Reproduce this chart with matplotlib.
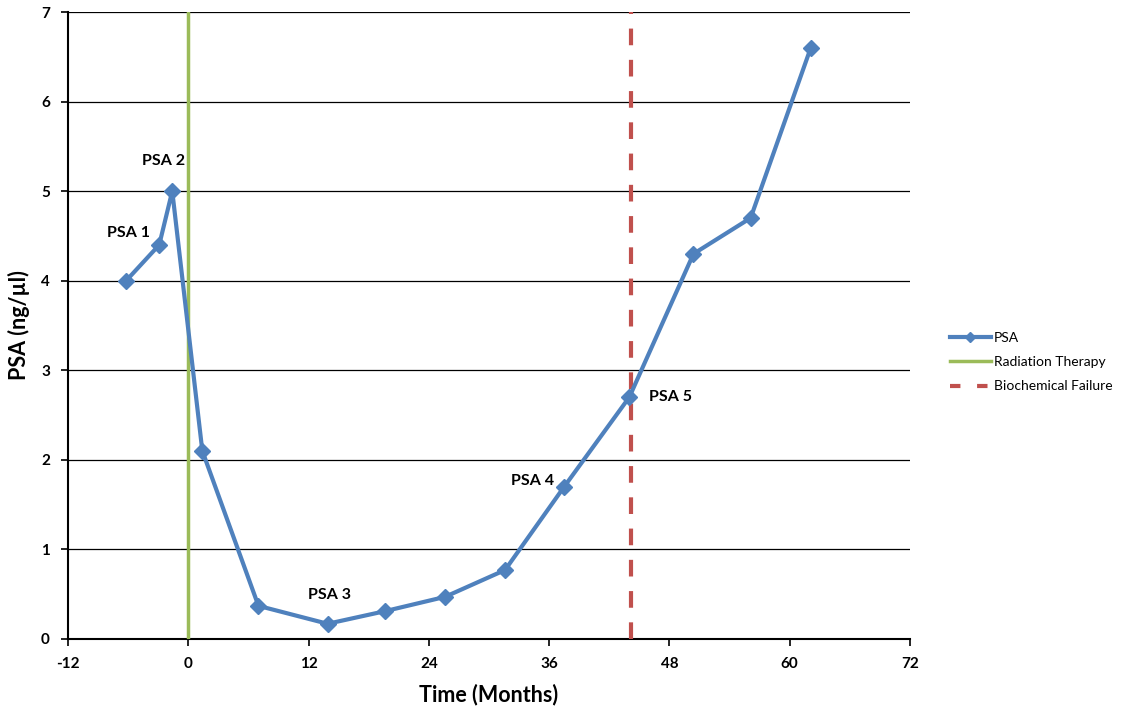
import matplotlib
matplotlib.use("Agg")
import matplotlib.pyplot as plt
from matplotlib.lines import Line2D

plt.rcParams['font.family'] = ['Lato', 'DejaVu Sans']

months = [-6.2, -2.9, -1.6, 1.4, 7.0, 13.9, 19.6, 25.6, 31.6, 37.5, 44.0, 50.4, 56.1, 62.1]
psa = [4.0, 4.4, 5.0, 2.1, 0.37, 0.17, 0.31, 0.47, 0.77, 1.7, 2.7, 4.3, 4.7, 6.6]
radiation_x = 0
failure_x = 44.2
label_names = ["PSA 1", "PSA 2", "PSA 3", "PSA 4", "PSA 5"]
label_idx = [1, 2, 5, 9, 10]
label_offsets = [(-31, 12), (-9, 30), (2, 29), (-32, 6), (41, 0)]
x_ticks = [-12, 0, 12, 24, 36, 48, 60, 72]
y_ticks = [0, 1, 2, 3, 4, 5, 6, 7]

blue = '#4F81BD'
green = '#9BBB59'
red = '#C0504D'

fig = plt.figure(figsize=(11.23, 7.12), dpi=100)
ax = fig.add_axes([68/1123, 73/712, (910-68)/1123, (639-12)/712])

ax.set_xlim(-12, 72)
ax.set_ylim(0, 7)
for y in y_ticks[1:]:
    ax.axhline(y, color='#000000', lw=0.9, zorder=1)

ax.plot(months, psa, color=blue, lw=3, marker='D', ms=8, zorder=4, label='PSA')
ax.plot([radiation_x, radiation_x], [0, 7], color=green, lw=2.5, zorder=3, label='Radiation Therapy')
ax.plot([failure_x, failure_x], [0, 7], color=red, lw=3, ls=(0, (4, 3.5)), zorder=3, label='Biochemical Failure')

for name, i, off in zip(label_names, label_idx, label_offsets):
    ax.annotate(name, (months[i], psa[i]), xytext=off, textcoords='offset pixels',
                ha='center', va='center', fontsize=11.5, fontweight='bold', zorder=5)

ax.set_xticks(x_ticks)
ax.set_yticks(y_ticks)
ax.set_xticklabels([str(v) for v in x_ticks], fontsize=11, fontweight='bold')
ax.set_yticklabels([str(v) for v in y_ticks], fontsize=11, fontweight='bold')
ax.tick_params(direction='out', length=5, width=1.2, color='black')
ax.tick_params(axis='x', pad=8)
ax.tick_params(axis='y', pad=8)
for s in ['top', 'right']:
    ax.spines[s].set_visible(False)
for s in ['left', 'bottom']:
    ax.spines[s].set_linewidth(1.5)

ax.set_xlabel('Time (Months)', fontsize=15.5, fontweight='bold', labelpad=9)
ax.set_ylabel('PSA (ng/µl)', fontsize=15.5, fontweight='bold', labelpad=8)

handles = [
    Line2D([], [], color=blue, lw=3, marker='D', ms=5),
    Line2D([], [], color=green, lw=2.5),
    Line2D([], [], color=red, lw=3, ls=(0, (2.5, 4))),
]
fig.legend(handles, ['PSA', 'Radiation Therapy', 'Biochemical Failure'],
           loc='center left', bbox_to_anchor=(937/1123, 1 - 362/712),
           frameon=False, fontsize=10, handlelength=3.0, handletextpad=0.2,
           labelspacing=0.9)

fig.savefig('out.png', dpi=100)
